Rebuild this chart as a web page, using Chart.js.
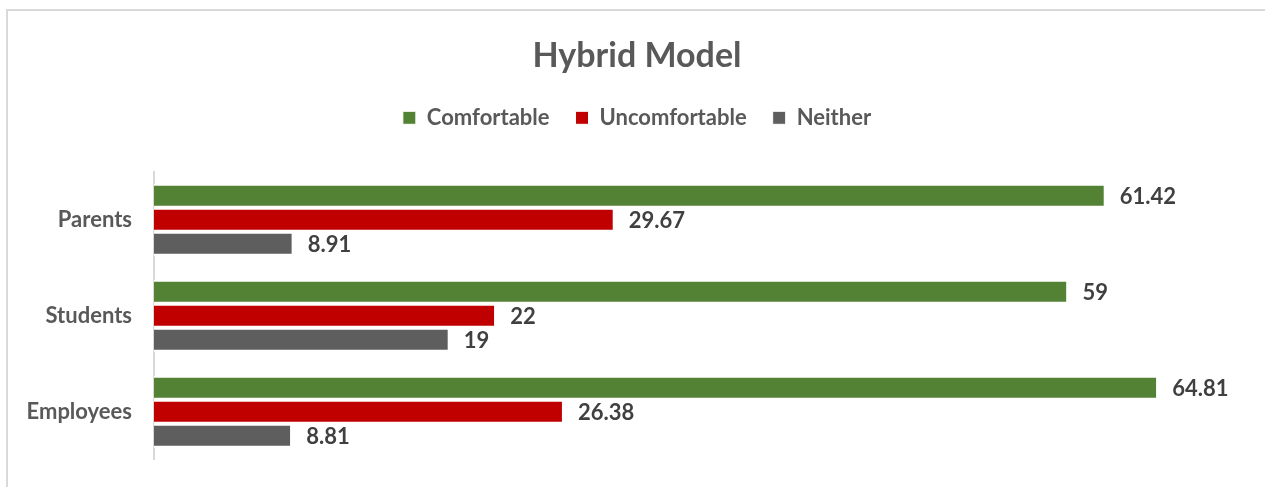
<!DOCTYPE html>
<html>
<head>
<meta charset="utf-8">
<title>Hybrid Model</title>
<script src="https://cdn.jsdelivr.net/npm/chart.js@4/dist/chart.umd.min.js"></script>
<style>
    html, body { margin: 0; padding: 0; background: #fff; overflow: hidden; }
    #frame {
        position: absolute; left: 6px; top: 9px;
        width: 1400px; height: 600px;
        border: 2px solid #d9d9d9;
    }
    #wrap { position: absolute; left: 0; top: 0; width: 1265px; height: 487px; }
</style>
</head>
<body>
<div id="frame"></div>
<div id="wrap"><canvas id="hybridChart"></canvas></div>
<script>
// ---- data ----
const groups = ["Parents", "Students", "Employees"];
const comfortable = [61.42, 59, 64.81];
const uncomfortable = [29.67, 22, 26.38];
const neither = [8.91, 19, 8.81];
const seriesNames = ["Comfortable", "Uncomfortable", "Neither"];
const xMax = 71;

const FONT = "Lato, 'Open Sans', sans-serif";

// value labels at the end of each bar
const barLabels = {
    id: "barLabels",
    afterDatasetsDraw(chart) {
        const ctx = chart.ctx;
        ctx.save();
        ctx.font = "bold 22px " + FONT;
        ctx.fillStyle = "#404040";
        ctx.textAlign = "left";
        ctx.textBaseline = "middle";
        chart.data.datasets.forEach((ds, i) => {
            const meta = chart.getDatasetMeta(i);
            meta.data.forEach((bar, j) => {
                ctx.fillText(String(ds.data[j]), bar.x + 16, bar.y + 1);
            });
        });
        ctx.restore();
    }
};

// extra room between the legend and the bars
const legendGap = {
    id: "legendGap",
    beforeInit(chart) {
        const origFit = chart.legend.fit;
        chart.legend.fit = function () {
            origFit.bind(chart.legend)();
            this.height += 33;
        };
    }
};

const barStyle = {
    borderColor: "#ffffff",
    borderWidth: { top: 2, bottom: 2, left: 0, right: 0 },
    borderSkipped: false,
    categoryPercentage: 0.75,
    barPercentage: 1
};

new Chart(document.getElementById("hybridChart"), {
    type: "bar",
    data: {
        labels: groups,
        datasets: [
            { label: seriesNames[0], data: comfortable, backgroundColor: "#548235", ...barStyle },
            { label: seriesNames[1], data: uncomfortable, backgroundColor: "#c00000", ...barStyle },
            { label: seriesNames[2], data: neither, backgroundColor: "#5e5e5e", ...barStyle }
        ]
    },
    options: {
        indexAxis: "y",
        responsive: true,
        maintainAspectRatio: false,
        animation: false,
        layout: { padding: { left: 22, right: 13, top: 0, bottom: 12 } },
        plugins: {
            title: {
                display: true,
                text: "Hybrid Model",
                color: "#595959",
                font: { family: FONT, size: 34, weight: "bold" },
                padding: { top: 36, bottom: 4 }
            },
            legend: {
                display: true,
                position: "top",
                labels: {
                    color: "#595959",
                    font: { family: FONT, size: 22, weight: "bold" },
                    boxWidth: 13,
                    boxHeight: 13,
                    padding: 26
                }
            },
            tooltip: { enabled: false }
        },
        scales: {
            x: {
                display: false,
                min: 0,
                max: xMax
            },
            y: {
                grid: { display: false },
                border: { display: true, color: "#d9d9d9", width: 2 },
                ticks: {
                    color: "#595959",
                    font: { family: FONT, size: 22, weight: "bold" },
                    padding: 14
                },
                afterFit(scale) { scale.width = 132; }
            }
        }
    },
    plugins: [barLabels, legendGap]
});
</script>
</body>
</html>
